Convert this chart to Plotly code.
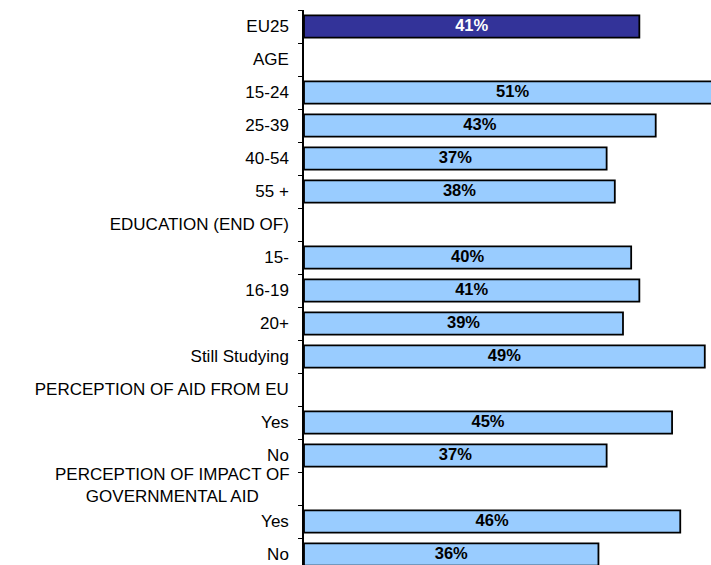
import plotly.graph_objects as go

labels = ['EU25', 'AGE', '15-24', '25-39', '40-54', '55 +', 'EDUCATION (END OF)', '15-', '16-19', '20+',
          'Still Studying', 'PERCEPTION OF AID FROM EU', 'Yes', 'No', '', 'Yes', 'No']
values = [41, None, 51, 43, 37, 38, None, 40, 41, 39, 49, None, 45, 37, None, 46, 36]
two_line_label = 'PERCEPTION OF IMPACT OF<br>GOVERNMENTAL AID'
two_line_row = 14

rows = list(range(len(labels)))
bar_colors = ['#333399' if i == 0 else '#99CCFF' for i in rows]
text_colors = ['white' if i == 0 else 'black' for i in rows]

fig_w, fig_h = 711, 565
top = 10
row_px = 33
y_range = [-0.5 + (fig_h - top) / row_px, -0.5]
boundaries = [r - 0.5 for r in rows] + [len(rows) - 0.5]

fig = go.Figure()
fig.add_trace(go.Bar(
    x=values, y=rows, orientation='h', width=0.68,
    marker=dict(color=bar_colors, line=dict(color='black', width=1.8)),
    hoverinfo='skip'))

# percentage labels centred in each bar (on the overlay axis that carries the boundary ticks)
txt_rows = [r for r in rows if values[r] is not None]
fig.add_trace(go.Scatter(
    x=[values[r] / 2 for r in txt_rows], y=txt_rows, mode='text', yaxis='y2',
    text=['%d%%' % values[r] for r in txt_rows],
    textfont=dict(family='Liberation Sans, Arial', size=16.5, color=[text_colors[r] for r in txt_rows], weight='bold'),
    hoverinfo='skip'))

fig.add_annotation(
    text=two_line_label, xref='paper', x=0, xanchor='right', xshift=-12,
    yref='y', y=two_line_row - 0.1, yanchor='middle', align='center', showarrow=False,
    font=dict(family='Liberation Sans, Arial', size=17, color='black'))

fig.update_layout(
    width=fig_w, height=fig_h, margin=dict(l=304, r=0, t=top, b=0),
    plot_bgcolor='white', paper_bgcolor='white', showlegend=False,
    font=dict(family='Liberation Sans, Arial', size=17, color='black'),
    xaxis=dict(range=[0, 49.76], visible=False),
    yaxis=dict(range=y_range, tickmode='array', tickvals=rows, ticktext=labels,
               ticks='', showgrid=False, zeroline=False, showline=True, linecolor='black', linewidth=1.5,
               ticklabelstandoff=10),
    yaxis2=dict(overlaying='y', anchor='x', side='left', range=y_range,
                tickmode='array', tickvals=boundaries, ticktext=[''] * len(boundaries),
                ticks='outside', ticklen=5, tickcolor='black', tickwidth=1.2,
                showgrid=False, zeroline=False, showline=False))

# drop the default page margin so the figure fills the window
fig.write_html('out.html', config={'displayModeBar': False},
               post_script="document.body.style.margin='0';document.body.style.overflow='hidden';")
